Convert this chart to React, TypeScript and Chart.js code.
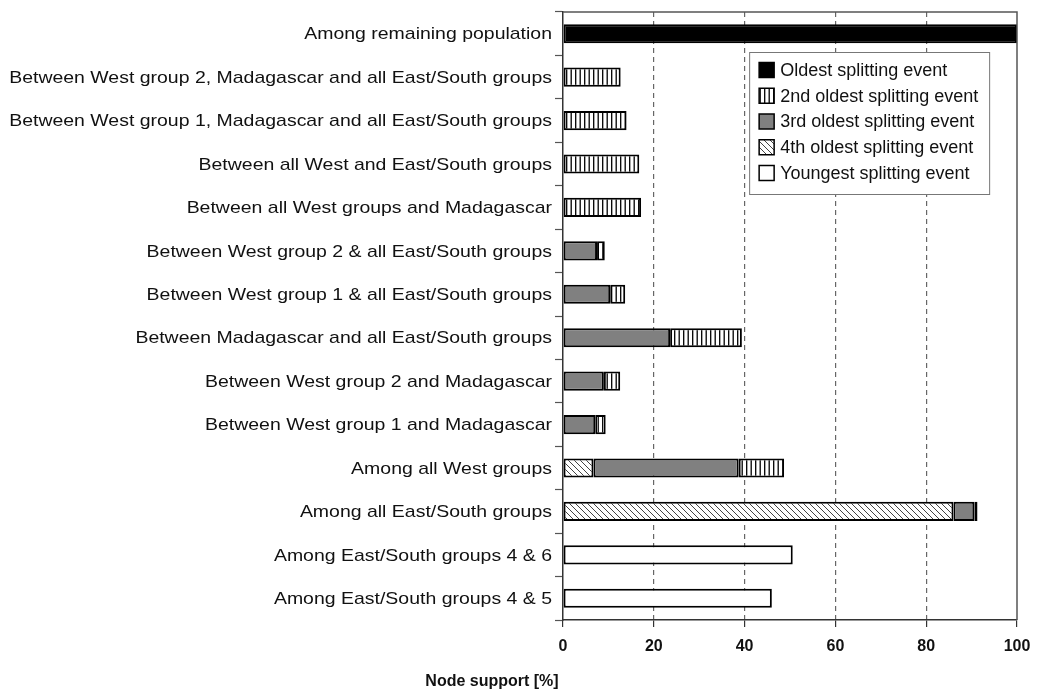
import { useEffect, useRef } from "react";
import { Chart, registerables } from "chart.js";

Chart.register(...registerables);

const categories = [
  "Among remaining population",
  "Between West group 2, Madagascar and all East/South groups",
  "Between West group 1, Madagascar and all East/South groups",
  "Between all West and East/South groups",
  "Between all West groups and Madagascar",
  "Between West group 2 & all East/South groups",
  "Between West group 1 & all East/South groups",
  "Between Madagascar and all East/South groups",
  "Between West group 2 and Madagascar",
  "Between West group 1 and Madagascar",
  "Among all West groups",
  "Among all East/South groups",
  "Among East/South groups 4 & 6",
  "Among East/South groups 4 & 5",
];

const youngest = [null, null, null, null, null, null, null, null, null, null, null, null, 50.6, 46.0];
const fourthOldest = [null, null, null, null, null, null, null, null, null, null, 6.7, 86.0, null, null];
const thirdOldest = [null, null, null, null, null, 7.5, 10.4, 23.6, 9.0, 7.1, 32.0, 4.6, null, null];
const secondOldest = [null, 12.7, 14.0, 16.8, 17.2, 1.7, 3.3, 15.8, 3.6, 2.3, 10.0, null, null, null];
const oldest = [100, null, null, null, null, null, null, null, null, null, null, 0.7, null, null];

const seriesNames = [
  "Oldest splitting event",
  "2nd oldest splitting event",
  "3rd oldest splitting event",
  "4th oldest splitting event",
  "Youngest splitting event",
];
const xTickValues = [0, 20, 40, 60, 80, 100];
const axisTitle = "Node support [%]";

const FONT = '"Liberation Sans", Arial, sans-serif';

function makeStripes(ctx: CanvasRenderingContext2D) {
  const c = document.createElement("canvas");
  c.width = 9;
  c.height = 9;
  const g = c.getContext("2d")!;
  g.fillStyle = "#fff";
  g.fillRect(0, 0, 9, 9);
  g.strokeStyle = "#000";
  g.lineWidth = 1.3;
  g.beginPath();
  g.moveTo(0.7, 0);
  g.lineTo(0.7, 9);
  g.moveTo(5.2, 0);
  g.lineTo(5.2, 9);
  g.stroke();
  return ctx.createPattern(c, "repeat")!;
}

function makeDiag(ctx: CanvasRenderingContext2D) {
  const s = 6;
  const c = document.createElement("canvas");
  c.width = s;
  c.height = s;
  const g = c.getContext("2d")!;
  g.fillStyle = "#fff";
  g.fillRect(0, 0, s, s);
  g.strokeStyle = "#444";
  g.lineWidth = 1;
  g.beginPath();
  g.moveTo(0, 0);
  g.lineTo(s, s);
  g.moveTo(-1, s - 1);
  g.lineTo(1, s + 1);
  g.moveTo(s - 1, -1);
  g.lineTo(s + 1, 1);
  g.stroke();
  return ctx.createPattern(c, "repeat")!;
}

export default function App() {
  const ref = useRef<HTMLCanvasElement | null>(null);

  useEffect(() => {
    const canvas = ref.current!;
    const ctx0 = canvas.getContext("2d")!;
    const stripes = makeStripes(ctx0);
    const diag = makeDiag(ctx0);
    const GRAY = "#808080";

    const legendFills: (string | CanvasPattern)[] = ["#000", stripes, GRAY, diag, "#fff"];

    const overlay = {
      id: "overlay",
      afterDraw(chart: any) {
        const { ctx, chartArea, scales } = chart;
        const xs = scales.x;
        const ys = scales.y;
        ctx.save();
        // top & right borders
        ctx.strokeStyle = "#555";
        ctx.lineWidth = 1.5;
        ctx.setLineDash([]);
        ctx.beginPath();
        ctx.moveTo(chartArea.left, chartArea.top);
        ctx.lineTo(chartArea.right, chartArea.top);
        ctx.lineTo(chartArea.right, chartArea.bottom);
        ctx.stroke();

        // y category labels (horizontally stretched as in reference)
        const sx = 1.145;
        ctx.font = `17px ${FONT}`;
        ctx.fillStyle = "#111";
        ctx.textAlign = "right";
        ctx.textBaseline = "middle";
        const xr = ys.right - 11;
        categories.forEach((lab, i) => {
          const y = ys.getPixelForValue(i);
          ctx.save();
          ctx.scale(sx, 1);
          ctx.fillText(lab, xr / sx, y + 1);
          ctx.restore();
        });

        // legend
        const x0 = xs.getPixelForValue(41);
        const y0 = chartArea.top + 40;
        const w = 240;
        const h = 142;
        ctx.fillStyle = "#fff";
        ctx.fillRect(x0, y0, w, h);
        ctx.strokeStyle = "#777";
        ctx.lineWidth = 1;
        ctx.strokeRect(x0 + 0.5, y0 + 0.5, w, h);
        seriesNames.forEach((name, i) => {
          const cy = y0 + 18 + i * 25.75;
          ctx.fillStyle = legendFills[i];
          ctx.fillRect(x0 + 10, cy - 7.5, 15, 15);
          ctx.strokeStyle = "#000";
          ctx.lineWidth = 1.5;
          ctx.strokeRect(x0 + 10, cy - 7.5, 15, 15);
          ctx.fillStyle = "#111";
          ctx.font = `18px ${FONT}`;
          ctx.textAlign = "left";
          ctx.textBaseline = "middle";
          ctx.fillText(name, x0 + 31, cy + 1);
        });

        // axis title
        ctx.font = `bold 16px ${FONT}`;
        ctx.fillStyle = "#111";
        ctx.textAlign = "center";
        ctx.textBaseline = "middle";
        ctx.fillText(axisTitle, chartArea.left - 71, chart.height - 14);
        ctx.restore();
      },
    };

    const common = {
      borderColor: "#000",
      borderWidth: 2,
      borderSkipped: false,
      categoryPercentage: 1,
      barPercentage: 0.44,
    };

    const chart = new Chart(canvas, {
      type: "bar",
      data: {
        labels: categories,
        datasets: [
          { label: seriesNames[4], data: youngest, backgroundColor: "#fff", ...common },
          { label: seriesNames[3], data: fourthOldest, backgroundColor: diag, ...common },
          { label: seriesNames[2], data: thirdOldest, backgroundColor: GRAY, ...common },
          { label: seriesNames[1], data: secondOldest, backgroundColor: stripes, ...common },
          { label: seriesNames[0], data: oldest, backgroundColor: "#000", ...common },
        ] as any,
      },
      options: {
        indexAxis: "y",
        animation: false,
        responsive: true,
        maintainAspectRatio: false,
        layout: { padding: { top: 4, right: 16, left: 0, bottom: 0 } },
        plugins: {
          legend: { display: false },
          tooltip: { enabled: false },
          title: { display: false },
        },
        scales: {
          x: {
            stacked: true,
            min: 0,
            max: 100,
            afterBuildTicks: (scale: any) => {
              scale.ticks = xTickValues.map((v) => ({ value: v }));
            },
            afterFit: (scale: any) => {
              scale.height = 76;
              scale.paddingLeft = 0;
              scale.paddingRight = 0;
            },
            ticks: {
              color: "#111",
              font: { family: FONT, size: 16, weight: "bold" },
              padding: 10,
            },
            grid: {
              color: (c: any) =>
                c.tick && (c.tick.value === 0 || c.tick.value === 100) ? "rgba(0,0,0,0)" : "#666",
              lineWidth: 1.2,
              tickColor: "#333",
              tickLength: 7,
              tickBorderDash: [],
            },
            border: { color: "#333", width: 1.5, dash: [5, 4] },
          },
          y: {
            stacked: true,
            afterFit: (scale: any) => {
              scale.width = 555;
              scale.paddingTop = 0;
              scale.paddingBottom = 0;
            },
            ticks: { display: false },
            grid: {
              offset: true,
              drawOnChartArea: false,
              drawTicks: true,
              tickLength: 8,
              tickColor: "#555",
              tickWidth: 1.2,
            },
            border: { color: "#333", width: 1.5 },
          },
        },
      } as any,
      plugins: [overlay],
    });

    return () => chart.destroy();
  }, []);

  return (
    <div style={{ position: "relative", width: 1025, height: 688 }}>
      <canvas ref={ref} />
    </div>
  );
}
